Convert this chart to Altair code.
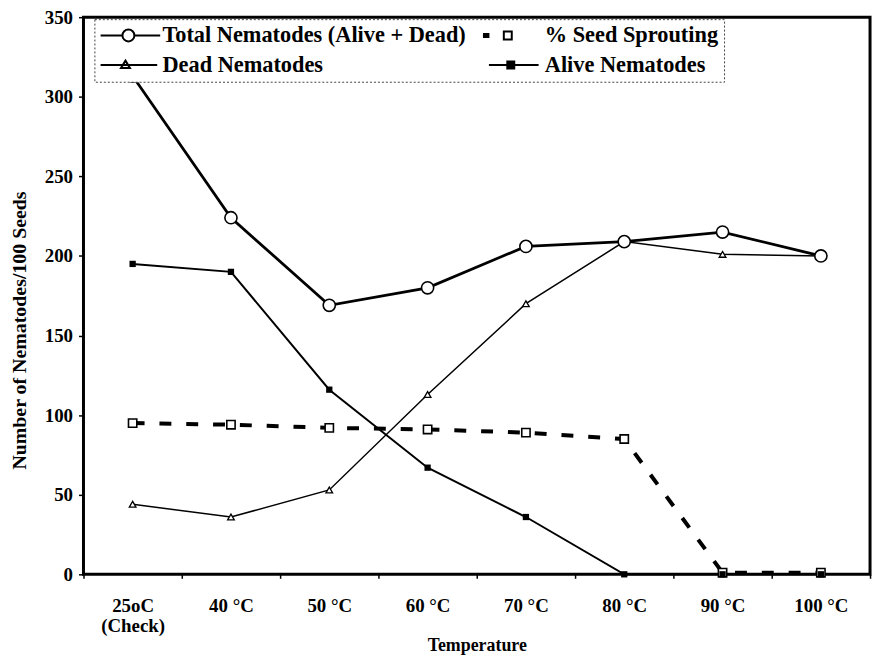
import altair as alt
import pandas as pd

# ---- data ----
temps = ["25oC\n(Check)", "40 °C", "50 °C", "60 °C", "70 °C", "80 °C", "90 °C", "100 °C"]
total = [313, 224, 169, 180, 206, 209, 215, 200]
seed = [95, 94, 92, 91, 89, 85, 1, 1]
dead = [44, 36, 53, 113, 170, 209, 201, 200]
alive = [195, 190, 116, 67, 36, 0, 0, 0]
y_ticks = [0, 50, 100, 150, 200, 250, 300, 350]

series_names = ["Total Nematodes (Alive + Dead)", "% Seed Sprouting",
                "Dead Nematodes", "Alive Nematodes"]
# legend order (filled column by column): Total, Dead | Seed, Alive
legend_order = [series_names[0], series_names[2], series_names[1], series_names[3]]

rows = []
for name, vals in zip(series_names, [total, seed, dead, alive]):
    for t, v in zip(temps, vals):
        rows.append({"temp": t, "series": name, "value": v})
df = pd.DataFrame(rows)

FONT = "Liberation Serif"

x_enc = alt.X(
    "temp:N", sort=temps,
    scale=alt.Scale(type="band", paddingInner=0, paddingOuter=0),
    bandPosition=0.5,
    axis=alt.Axis(title="Temperature", labelExpr="split(datum.label, '\\n')",
                  labelAngle=0, tickBand="extent", tickSize=4, labelPadding=18,
                  labelLineHeight=21, titlePadding=1, titleFontSize=18,
                  labelFontSize=19),
)
y_enc = alt.Y(
    "value:Q", scale=alt.Scale(domain=[0, 350], nice=False),
    axis=alt.Axis(title="Number of Nematodes/100 Seeds", values=y_ticks,
                  tickSize=5, labelPadding=6, titlePadding=15, titleFontSize=20,
                  titleY=315, labelFontSize=19),
)

base = alt.Chart(df).encode(x=x_enc, y=y_enc)


def sel(name):
    return base.transform_filter(alt.datum.series == name)


total_line = sel(series_names[0]).mark_line(color="black", strokeWidth=2.8)
total_pts = sel(series_names[0]).mark_point(shape="circle", size=150, filled=True,
                                            fill="white", stroke="black", strokeWidth=1.6, opacity=1)
seed_line = sel(series_names[1]).mark_line(color="black", strokeWidth=4, strokeDash=[12, 15])
seed_pts = sel(series_names[1]).mark_point(shape="square", size=70, filled=True,
                                           fill="white", stroke="black", strokeWidth=1.6, opacity=1)
dead_line = sel(series_names[2]).mark_line(color="black", strokeWidth=1.5)
dead_pts = sel(series_names[2]).mark_point(shape="triangle-up", size=45, filled=True,
                                           fill="white", stroke="black", strokeWidth=1.3, opacity=1)
alive_line = sel(series_names[3]).mark_line(color="black", strokeWidth=2)
alive_pts = sel(series_names[3]).mark_point(shape="square", size=40, filled=True,
                                            color="black", opacity=1)

# legend symbols (line + marker drawn as one path each), in legend_order
legend_shapes = [
    "M-1,0H1.2M2.4,0A0.6,0.6,0,1,1,1.2,0A0.6,0.6,0,1,1,2.4,0M2.4,0H5",
    "M-1,0H4.7M1.5,-0.45L1.95,0.3L1.05,0.3Z",
    "M-1,-0.15H-0.35M-1,0H-0.35M-1,0.15H-0.35M1.1,-0.4H1.9V0.4H1.1Z",
    "M-0.4,0H4.6M1.45,-0.35H2.15V0.35H1.45Z",
]
legend_fills = ["white", "white", "white", "black"]
legend_strokes = ["black", "black", "black", "black"]

leg = alt.Legend(
    title=None, orient="none", legendX=11, legendY=2, columns=2,
    columnPadding=12, rowPadding=7, symbolSize=400, symbolStrokeWidth=2,
    symbolStrokeColor="black", symbolOpacity=1,
    labelFont=FONT, labelFontSize=22.5, labelFontWeight="bold", labelColor="black",
    labelOffset=41, labelLimit=0, padding=5, strokeColor="#444", fillColor="white",
)

legend_layer = base.mark_point(opacity=0, color="black").encode(
    shape=alt.Shape("series:N", sort=legend_order,
                    scale=alt.Scale(domain=legend_order, range=legend_shapes), legend=leg),
    fill=alt.Fill("series:N", sort=legend_order,
                  scale=alt.Scale(domain=legend_order, range=legend_fills), legend=leg),
    stroke=alt.Stroke("series:N", sort=legend_order,
                      scale=alt.Scale(domain=legend_order, range=legend_strokes), legend=leg),
)

chart = alt.layer(
    total_line, seed_line, dead_line, alive_line,
    seed_pts, dead_pts, alive_pts, total_pts, legend_layer,
).properties(
    width=792, height=561,
    padding={"left": 76, "top": 7, "right": 5, "bottom": 79},
    autosize=alt.AutoSizeParams(type="none"),
).configure_view(
    stroke="black", strokeWidth=3
).configure_axis(
    labelFont=FONT, labelFontWeight="bold", labelColor="black",
    titleFont=FONT, titleFontWeight="bold", titleColor="black",
    tickColor="black", tickWidth=1.5, domain=False, grid=False,
).configure_legend(
    strokeDash=[2, 2], strokeWidth=1,
)

chart.save("out.html", embed_options={"renderer": "svg", "actions": False})
